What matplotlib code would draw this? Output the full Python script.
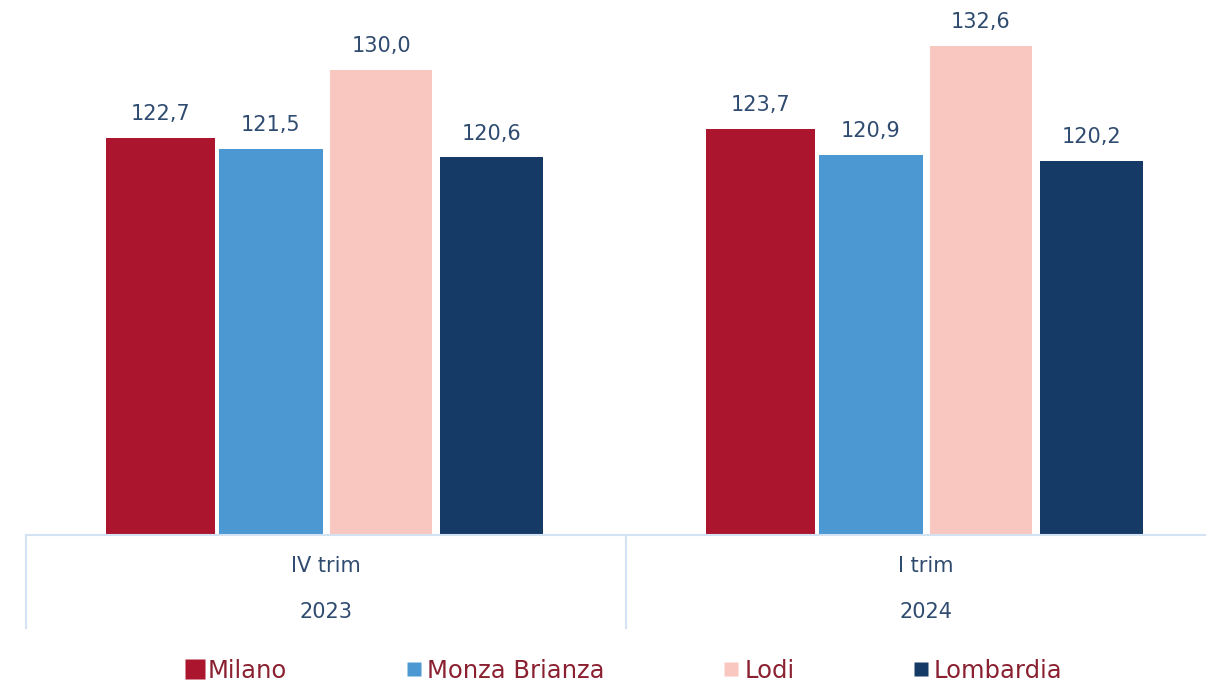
import matplotlib
matplotlib.use('Agg')
import matplotlib.pyplot as plt
from matplotlib.lines import Line2D
import numpy as np

# data
quarters = ['IV trim', 'I trim']
years = ['2023', '2024']
series = ['Milano', 'Monza Brianza', 'Lodi', 'Lombardia']
milano = [122.7, 123.7]
monza = [121.5, 120.9]
lodi = [130.0, 132.6]
lombardia = [120.6, 120.2]

colors = ['#AB162E', '#4B98D2', '#F9C7C0', '#163A66']
label_col = '#2F4B70'
legend_col = '#8A2030'
axis_col = '#D3E3F3'

plt.rcParams['font.family'] = ['DejaVu Sans']

W, H = 1206, 684
fig = plt.figure(figsize=(W / 100, H / 100), dpi=100)
# axes: left edge at x=26px, baseline at y=535px
ax = fig.add_axes([26 / W, (H - 535) / H, (W - 26) / W, 535 / H])

ymin = 80
ax.set_ylim(ymin, ymin + 535 / 9.3)
ax.set_xlim(-0.5, (W - 26) / 600 - 0.5)

x = np.arange(len(quarters))
step = 0.1835
widths = [0.182, 0.172, 0.17, 0.172]
for i, (name, vals) in enumerate(zip(series, [milano, monza, lodi, lombardia])):
    pos = x + (i - 1.5) * step
    ax.bar(pos, np.array(vals) - ymin, bottom=ymin, width=widths[i],
           color=colors[i], edgecolor='none', zorder=2)
    for px, v in zip(pos, vals):
        ax.annotate(f'{v:.1f}'.replace('.', ','), (px, v), xytext=(0, 10),
                    textcoords='offset points', ha='center', va='bottom',
                    fontsize=15, color=label_col)

for s in ['top', 'right', 'left']:
    ax.spines[s].set_visible(False)
ax.spines['bottom'].set_color(axis_col)
ax.spines['bottom'].set_linewidth(1.5)
ax.set_xticks([])
ax.set_yticks([])

# category separators below the axis
trans = ax.get_xaxis_transform()
for xb in [-0.5, 0.5]:
    ax.plot([xb, xb], [0, -93 / 535], color=axis_col, lw=1.5,
            transform=trans, clip_on=False)
for xc, q, yr in zip(x, quarters, years):
    ax.text(xc, -31 / 535, q, transform=trans, ha='center', va='center',
            fontsize=15, color=label_col)
    ax.text(xc, -77 / 535, yr, transform=trans, ha='center', va='center',
            fontsize=15, color=label_col)

handles = [Line2D([], [], marker='s', ls='none', markersize=ms, color=c,
                  markeredgecolor='none')
           for c, ms in zip(colors, [14.4, 9.4, 9.4, 9.4])]
leg = fig.legend(handles, series, loc='center', bbox_to_anchor=(625 / W, (H - 671) / H),
                 ncol=4, frameon=False, fontsize=17.5, handlelength=0.6,
                 handletextpad=0.25, columnspacing=4.9)
for t in leg.get_texts():
    t.set_color(legend_col)

fig.savefig('out.png', dpi=100)
